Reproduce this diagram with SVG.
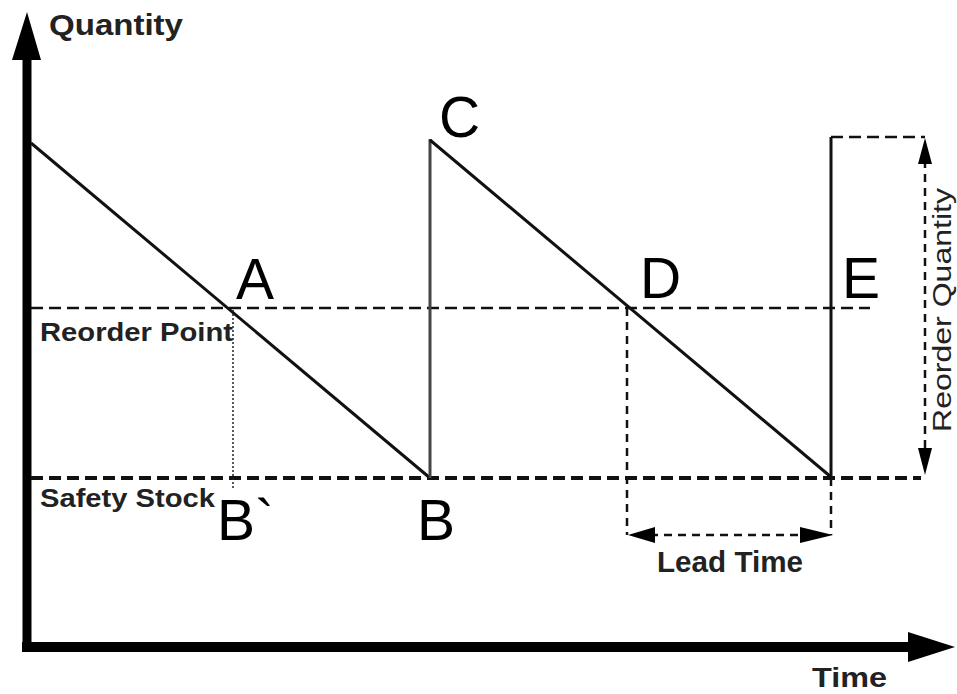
<svg xmlns="http://www.w3.org/2000/svg" width="957" height="694" viewBox="0 0 957 694">
<style>
.lbl{font-family:"Liberation Sans",Arial,sans-serif;font-weight:bold;fill:#222}
.pt{font-family:"Liberation Sans",Arial,sans-serif;font-size:57px;fill:#000}
.solid{stroke:#111;stroke-width:3;fill:none}
.dash{stroke:#111;stroke-width:2.5;stroke-dasharray:12 6;fill:none}
.dashb{stroke:#111;stroke-width:4;stroke-dasharray:12 6;fill:none}
.dashs{stroke:#111;stroke-width:2.5;stroke-dasharray:8 6;fill:none}
</style>
<rect width="957" height="694" fill="#fff"/>
<g id="axes">
<line x1="27" y1="56" x2="27" y2="651" stroke="#000" stroke-width="9"/>
<polygon points="27,12 12,60 41,60" fill="#000"/>
<line x1="22" y1="647" x2="912" y2="647" stroke="#000" stroke-width="10"/>
<polygon points="955,647 908,632 908,662" fill="#000"/>
<text class="lbl" x="49" y="35" font-size="30" textLength="134" lengthAdjust="spacingAndGlyphs">Quantity</text>
<text class="lbl" x="812" y="687" font-size="28" textLength="75" lengthAdjust="spacingAndGlyphs">Time</text>
</g>
<g id="levels">
<line class="dash" x1="31" y1="308" x2="870" y2="308"/>
<line class="dashb" x1="31" y1="478" x2="921" y2="478"/>
<text class="lbl" x="40" y="341" font-size="26" textLength="193" lengthAdjust="spacingAndGlyphs">Reorder Point</text>
<text class="lbl" x="40" y="507" font-size="25" textLength="175" lengthAdjust="spacingAndGlyphs">Safety Stock</text>
</g>
<g id="connectors">
<line class="solid" x1="31" y1="143" x2="430" y2="478"/>
<line x1="430" y1="478" x2="430" y2="139" stroke="#444" stroke-width="3"/>
<line class="solid" x1="430" y1="140" x2="831" y2="477"/>
<line class="solid" x1="831" y1="477" x2="831" y2="137"/>
<line x1="233" y1="310" x2="233" y2="490" stroke="#222" stroke-width="1.5" stroke-dasharray="2 2"/>
</g>
<g id="reorder-quantity">
<line class="dash" x1="831" y1="137" x2="925" y2="137" stroke-width="3"/>
<line class="dashs" x1="925" y1="160" x2="925" y2="452" stroke-width="3"/>
<polygon points="925,138 918,164 932,164" fill="#000"/>
<polygon points="925,475 918,448 932,448" fill="#000"/>
<text font-family="Liberation Sans, Arial, sans-serif" font-size="25" fill="#222" transform="translate(951,432) rotate(-90)" textLength="244" lengthAdjust="spacingAndGlyphs">Reorder Quantity</text>
</g>
<g id="lead-time">
<line class="dashs" x1="627" y1="308" x2="627" y2="535"/>
<line class="dashs" x1="831" y1="478" x2="831" y2="535"/>
<line class="dashs" x1="650" y1="535" x2="805" y2="535"/>
<polygon points="628,535 655,527 655,543" fill="#000"/>
<polygon points="833,535 800,527 800,543" fill="#000"/>
<text class="lbl" x="657" y="572" font-size="30" textLength="146" lengthAdjust="spacingAndGlyphs">Lead Time</text>
</g>
<g id="node-A"><text class="pt" x="236" y="299">A</text></g>
<g id="node-B-prime"><text class="pt" x="217" y="540">B`</text></g>
<g id="node-B"><text class="pt" x="417" y="540">B</text></g>
<g id="node-C"><text class="pt" x="439" y="137">C</text></g>
<g id="node-D"><text class="pt" x="640" y="298">D</text></g>
<g id="node-E"><text class="pt" x="842" y="298">E</text></g>
</svg>
